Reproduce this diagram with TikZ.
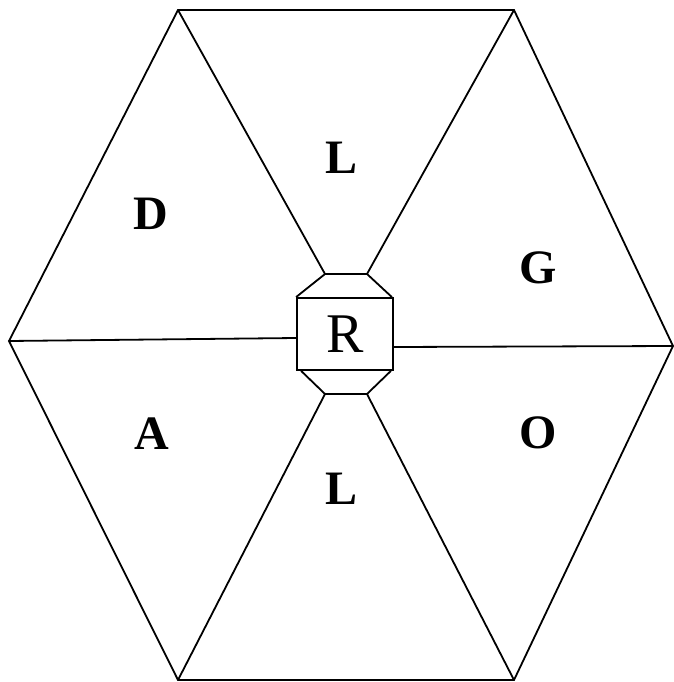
\documentclass[tikz,border=0pt]{standalone}
\usepackage{fontspec}
\setmainfont{Liberation Serif}
\usetikzlibrary{positioning}

\begin{document}
\begin{tikzpicture}[x=1pt,y=-1pt,line width=1.8pt,
  lbl/.style={font=\fontsize{48}{48}\selectfont\bfseries,inner sep=0pt},
  core/.style={draw,minimum width=96pt,minimum height=72pt,inner sep=0pt,font=\fontsize{56}{56}\selectfont}]
  \useasboundingbox (0,0) rectangle (673,682);
  % hexagon corners
  \coordinate (tl) at (178,10);\coordinate (tr) at (514,10);
  \coordinate (r) at (673,346);\coordinate (br) at (514,680);
  \coordinate (bl) at (178,680);\coordinate (l) at (9,341);
  \draw (tl)--(tr)--(r)--(br)--(bl)--(l)--cycle;
  % centre box with caps
  \node[core](R) at (345,334){R};
  \coordinate (ca) at (325,274);\coordinate (cb) at (367,274);
  \coordinate (cc) at (325,394);\coordinate (cd) at (367,394);
  \draw (R.north west)--(ca)--(cb)--([xshift=-2pt]R.north east);
  \draw ([xshift=5pt]R.south west)--(cc)--(cd)--([xshift=-3pt]R.south east);
  % spokes
  \draw (tl)--(ca);\draw (tr)--(cb);\draw (bl)--(cc);\draw (br)--(cd);
  \draw (l)--(R.west |- 0,338);\draw (r)--(R.east |- 0,347);
  % sector labels
  \node[lbl](lt) at (342,158){L};
  \node[lbl](d) at (151,214){D};
  \node[lbl](g) at (538,268){G};
  \node[lbl](a) at (152,434){A};
  \node[lbl](o) at (538,433){O};
  \node[lbl](lb) at (342,489){L};
\end{tikzpicture}
\end{document}
